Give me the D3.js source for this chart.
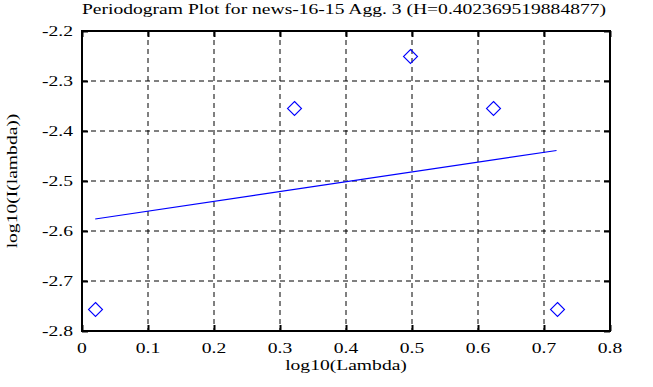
<!DOCTYPE html>
<html>
<head>
<meta charset="utf-8">
<script src="https://cdn.jsdelivr.net/npm/d3@7"></script>
<style>
  body { margin: 0; background: #fff; }
  text { font-family: "Liberation Serif", "DejaVu Serif", serif; fill: #000; }
</style>
</head>
<body>
<div id="chart"></div>
<script>
// periodogram points, log10(lambda) vs log10(I(lambda))
const logLambda = [0.0200, 0.3210, 0.4971, 0.6221, 0.7190];
const logI = [-2.756, -2.355, -2.251, -2.355, -2.756];
// least-squares fit line endpoints
const fitX = [0.0200, 0.7190];
const fitY = [-2.576, -2.439];
const xTicks = [0, 0.1, 0.2, 0.3, 0.4, 0.5, 0.6, 0.7, 0.8];
const yTicks = [-2.2, -2.3, -2.4, -2.5, -2.6, -2.7, -2.8];
const title = "Periodogram Plot for news-16-15 Agg. 3 (H=0.402369519884877)";

const W = 653, H = 387;
const margin = {top: 31, right: 43, bottom: 56, left: 82};
const width = W - margin.left - margin.right;
const height = H - margin.top - margin.bottom;
const fs = 14.5, sx = 1.35; // the original font is wide, stretch it

const svg = d3.select("#chart").append("svg")
    .attr("width", W)
    .attr("height", H);

const x = d3.scaleLinear().domain([0, 0.8]).range([0, width]);
const y = d3.scaleLinear().domain([-2.8, -2.2]).range([height, 0]);

const g = svg.append("g")
    .attr("transform", `translate(${margin.left},${margin.top})`);

// grid
g.selectAll(".vgrid").data(xTicks.slice(1, -1)).enter().append("line")
    .attr("x1", d => x(d)).attr("x2", d => x(d))
    .attr("y1", 0).attr("y2", height)
    .attr("stroke", "#000").attr("stroke-width", 1)
    .attr("stroke-dasharray", "5,4");
g.selectAll(".hgrid").data(yTicks.slice(1, -1)).enter().append("line")
    .attr("y1", d => y(d)).attr("y2", d => y(d))
    .attr("x1", 0).attr("x2", width)
    .attr("stroke", "#000").attr("stroke-width", 1)
    .attr("stroke-dasharray", "5,4");

// inward ticks on all four sides
const tickLen = 6;
g.append("g").attr("transform", `translate(0,${height})`)
    .call(d3.axisBottom(x).tickValues(xTicks).tickSizeInner(-tickLen).tickSizeOuter(0).tickFormat(""));
g.append("g")
    .call(d3.axisTop(x).tickValues(xTicks).tickSizeInner(-tickLen).tickSizeOuter(0).tickFormat(""));
g.append("g")
    .call(d3.axisLeft(y).tickValues(yTicks).tickSizeInner(-tickLen).tickSizeOuter(0).tickFormat(""));
g.append("g").attr("transform", `translate(${width},0)`)
    .call(d3.axisRight(y).tickValues(yTicks).tickSizeInner(-tickLen).tickSizeOuter(0).tickFormat(""));
g.selectAll(".domain").remove();
g.selectAll(".tick line").attr("stroke", "#000").attr("stroke-width", 2);

// tick labels
g.selectAll(".xlab").data(xTicks).enter().append("text")
    .attr("transform", d => `translate(${x(d)},${height + 22}) scale(${sx},1)`)
    .attr("text-anchor", "middle").attr("font-size", fs)
    .text(d => d === 0 ? "0" : d.toFixed(1));
g.selectAll(".ylab").data(yTicks).enter().append("text")
    .attr("transform", d => `translate(-9,${y(d) + 5}) scale(${sx},1)`)
    .attr("text-anchor", "end").attr("font-size", fs)
    .text(d => d.toFixed(1));

// frame
g.append("rect")
    .attr("x", 0).attr("y", 0)
    .attr("width", width).attr("height", height)
    .attr("fill", "none").attr("stroke", "#000").attr("stroke-width", 2);

// fit line
g.append("line")
    .attr("x1", x(fitX[0])).attr("y1", y(fitY[0]))
    .attr("x2", x(fitX[1])).attr("y2", y(fitY[1]))
    .style("stroke", "#0000ff").attr("stroke-width", 1.2);

// diamonds
const r = 7;
g.selectAll(".pt").data(logLambda).enter().append("path")
    .attr("class", "pt")
    .attr("d", (d, i) => {
        const cx = Math.round(x(d)) + 0.5, cy = Math.round(y(logI[i])) + 0.5;
        return `M${cx},${cy - r}L${cx + r},${cy}L${cx},${cy + r}L${cx - r},${cy}Z`;
    })
    .style("fill", "none").style("stroke", "#0000ff").attr("stroke-width", 1.1);

// title and axis labels
svg.append("text")
    .attr("transform", `translate(${margin.left + width / 2 - 2},14) scale(${sx},1)`)
    .attr("text-anchor", "middle").attr("font-size", fs)
    .text(title);
svg.append("text")
    .attr("transform", `translate(${margin.left + width / 2},370) scale(${sx},1)`)
    .attr("text-anchor", "middle").attr("font-size", fs)
    .text("log10(Lambda)");
svg.append("text")
    .attr("transform", `translate(17,${margin.top + height / 2}) rotate(-90) scale(${sx},1)`)
    .attr("text-anchor", "middle").attr("font-size", fs)
    .text("log10(I(lambda))");
</script>
</body>
</html>
